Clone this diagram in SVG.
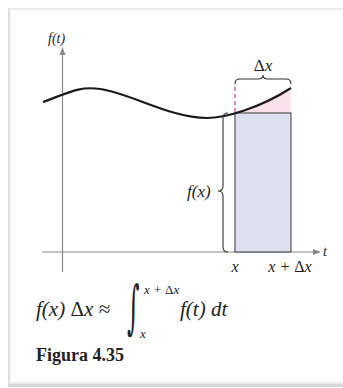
<svg xmlns="http://www.w3.org/2000/svg" width="343" height="388" viewBox="0 0 343 388">
<style>
.it{font-family:"Liberation Serif",serif;font-style:italic;fill:#222}
.rm{font-family:"Liberation Serif",serif;fill:#222}
.up{font-style:normal}
.ax{stroke:#8a8a8a;stroke-width:1.2;fill:none}
.br{stroke:#333;stroke-width:1.1;fill:none}
</style>
<defs>
<marker id="ah" viewBox="0 0 10 10" refX="9" refY="5" markerWidth="8" markerHeight="8" orient="auto" markerUnits="userSpaceOnUse">
<path d="M0,1 L10,5 L0,9 Z" fill="#8a8a8a"/>
</marker>
<clipPath id="pk"><rect x="235" y="0" width="56" height="113"/></clipPath>
</defs>
<rect x="0" y="0" width="343" height="388" fill="#ffffff"/>
<g id="frame">
<rect x="8" y="8" width="340" height="379" fill="#d8d8d8"/>
<rect x="9" y="8" width="340" height="376" fill="#ededed"/>
<rect x="11" y="10" width="340" height="372" fill="#ffffff"/>
</g>
<g id="axes">
<line class="ax" x1="62.5" y1="272" x2="62.5" y2="48" marker-end="url(#ah)"/>
<line class="ax" x1="42" y1="252" x2="320" y2="252" marker-end="url(#ah)"/>
<text class="it" x="48" y="43" font-size="14">f(t)</text>
<text class="it" x="323" y="256" font-size="14">t</text>
</g>
<g id="pink">
<path d="M43,102 C70,92 80,86 100,89 C130,93 170,118 207,118 C225,118 260,108 291,88 L291,260 L43,260 Z" fill="#fbe1ec" clip-path="url(#pk)"/>
</g>
<g id="rect">
<rect x="235" y="113" width="56" height="139" fill="#dedff0" stroke="#555" stroke-width="1.2"/>
</g>
<g id="dash">
<line x1="235" y1="87" x2="235" y2="113" stroke="#e0307a" stroke-width="1.2" stroke-dasharray="4,3"/>
</g>
<g id="curve">
<path d="M43,102 C70,92 80,86 100,89 C130,93 170,118 207,118 C225,118 260,108 291,88" stroke="#1a1a1a" stroke-width="2.2" fill="none"/>
</g>
<g id="braces">
<path class="br" d="M235,84 Q235,79 240,79 L258,79 Q263,79 263,75 Q263,79 268,79 L286,79 Q291,79 291,84"/>
<path class="br" d="M228,113 Q223,113 223,118 L223,186 Q223,191 218,191 Q223,191 223,196 L223,247 Q223,252 228,252"/>
</g>
<g id="labels">
<text class="it" x="263" y="71" font-size="17" text-anchor="middle"><tspan class="up">Δ</tspan>x</text>
<text class="it" x="187" y="197" font-size="17">f(x)</text>
<text class="it" x="235" y="272" font-size="16" text-anchor="middle">x</text>
<text class="it" x="290" y="272" font-size="16" text-anchor="middle">x + <tspan class="up">Δ</tspan>x</text>
</g>
<g id="formula">
<text class="it" x="36" y="316" font-size="21">f(x) <tspan class="up">Δ</tspan>x ≈</text>
<text x="0" y="0" font-size="40" font-family="DejaVu Serif, serif" fill="#222" transform="translate(127,327) scale(0.6,1.45)">∫</text>
<text class="it" x="144" y="294" font-size="13">x + <tspan class="up">Δ</tspan>x</text>
<text class="it" x="140" y="338" font-size="13">x</text>
<text class="it" x="180" y="316" font-size="21">f(t) dt</text>
<text class="rm" x="36" y="361" font-size="18" font-weight="bold">Figura 4.35</text>
</g>
</svg>
